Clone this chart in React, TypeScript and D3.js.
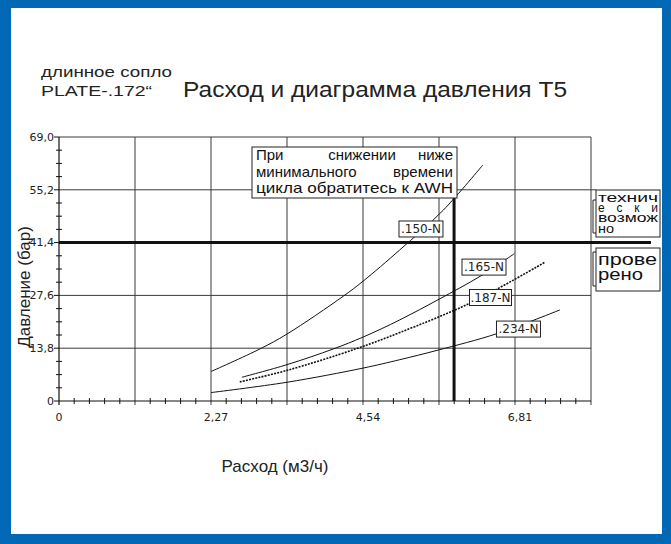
import React from "react";
import * as d3 from "d3";

// ---- data ----
const xTickValues = [0, 2.27, 4.54, 6.81];
const xTickLabels = ["0", "2,27", "4,54", "6,81"];
const yTickValues = [0, 13.8, 27.6, 41.4, 55.2, 69.0];
const yTickLabels = ["0", "13,8", "27,6", "41,4", "55,2", "69,0"];

const seriesNames = [".150-N", ".165-N", ".187-N", ".234-N"];
const flow150 = [2.27, 3.0, 3.405, 4.246, 4.54, 5.09, 5.74, 6.33];
const pres150 = [7.7, 13.6, 17.5, 27.4, 31.3, 39.5, 49.9, 61.7];
const flow165 = [2.73, 3.405, 4.096, 4.54, 5.09, 5.675, 6.29, 6.8];
const pres165 = [6.2, 9.5, 13.6, 16.7, 21.2, 26.6, 32.6, 38.5];
const flow187 = [2.7, 3.405, 4.43, 5.09, 6.14, 7.26];
const pres187 = [5.0, 8.0, 13.6, 17.9, 25.6, 36.3];
const flow234 = [2.27, 3.405, 4.54, 5.09, 5.66, 6.54, 7.48];
const pres234 = [2.2, 4.9, 8.6, 10.8, 13.3, 17.6, 23.8];

// label anchors (data coords)
const labelFlow = [5.406, 6.347, 6.444, 6.862];
const labelPres = [44.96, 35.0, 27.05, 18.8];

const limitPressure = 41.4;
const minFlow = 5.9;

const X_MAX = 7.945;
const X_STEP = 1.135;
const Y_MAX = 69;

const BLUE = "#0068b4";
const GRID = "#3a3a3a";

export default function App() {
  const x = d3.scaleLinear().domain([0, X_MAX]).range([59, 591]);
  const y = d3.scaleLinear().domain([0, Y_MAX]).range([401, 137]);

  const line = d3
    .line<[number, number]>()
    .x((d) => x(d[0]))
    .y((d) => y(d[1]))
    .curve(d3.curveCatmullRom.alpha(0.5));

  const series = [
    { f: flow150, p: pres150, dash: undefined, w: 1 },
    { f: flow165, p: pres165, dash: undefined, w: 1 },
    { f: flow187, p: pres187, dash: "2,1.2", w: 1.6 },
    { f: flow234, p: pres234, dash: undefined, w: 1 },
  ];

  const majorX = d3.range(0, 8).map((i) => i * X_STEP);
  const minorX = d3.range(0, 36).filter((i) => i % 5 !== 0).map((i) => (i * X_STEP) / 5);
  const minorY = d3.range(0, 21).filter((i) => i % 4 !== 0).map((i) => (i * 13.8) / 4);

  const font = "'Liberation Sans', Arial, sans-serif";
  const tickFont = "'DejaVu Sans', sans-serif";

  return (
    <svg
      width={671}
      height={544}
      style={{ position: "absolute", left: 0, top: 0 }}
      xmlns="http://www.w3.org/2000/svg"
    >
      <rect x={0} y={0} width={671} height={544} fill={BLUE} />
      <rect x={11} y={8} width={651} height={526} fill="#fff" />

      {/* titles */}
      <text x={41} y={77} fontFamily={font} fontSize={15} fill="#222" textLength={131} lengthAdjust="spacingAndGlyphs">
        длинное сопло
      </text>
      <text x={41} y={96} fontFamily={font} fontSize={15} fill="#222" textLength={111} lengthAdjust="spacingAndGlyphs">
        PLATE-.172“
      </text>
      <text x={183} y={97} fontFamily={font} fontSize={22} fill="#222" textLength={384} lengthAdjust="spacingAndGlyphs">
        Расход и диаграмма давления  T5
      </text>

      {/* horizontal grid */}
      {yTickValues.filter((v) => v > 0 && v !== limitPressure).map((v) => (
        <line key={"hg" + v} x1={x(0)} x2={v === 55.2 ? 596 : x(X_MAX)} y1={y(v)} y2={y(v)} stroke={GRID} strokeWidth={1} />
      ))}
      {/* vertical grid */}
      {majorX.slice(1).map((v) => (
        <line key={"vg" + v} x1={x(v)} x2={x(v)} y1={y(Y_MAX)} y2={y(0) + 4} stroke={GRID} strokeWidth={1} />
      ))}

      {/* axes */}
      <line x1={x(0)} x2={x(X_MAX)} y1={y(0)} y2={y(0)} stroke="#111" strokeWidth={1.2} />
      <line x1={x(0)} x2={x(0)} y1={y(Y_MAX)} y2={y(0) + 4} stroke="#111" strokeWidth={1.2} />
      {minorX.map((v) => (
        <line key={"mx" + v} x1={x(v)} x2={x(v)} y1={y(0) - 3} y2={y(0) + 3} stroke="#111" strokeWidth={1} />
      ))}
      {minorY.map((v) => (
        <line key={"my" + v} x1={x(0) - 3} x2={x(0) + 3} y1={y(v)} y2={y(v)} stroke="#111" strokeWidth={1} />
      ))}
      {yTickValues.map((v) => (
        <line key={"yt" + v} x1={x(0) - 5} x2={x(0)} y1={y(v)} y2={y(v)} stroke="#111" strokeWidth={1} />
      ))}

      {/* tick labels */}
      {yTickValues.map((v, i) => (
        <text key={"yl" + v} x={54} y={y(v)} dy="0.35em" textAnchor="end" fontFamily={tickFont} fontSize={11} fill="#222">
          {yTickLabels[i]}
        </text>
      ))}
      {xTickValues.map((v, i) => (
        <text key={"xl" + v} x={x(v) + (v > 0 ? 5 : 0)} y={421} textAnchor="middle" fontFamily={tickFont} fontSize={11} fill="#222">
          {xTickLabels[i]}
        </text>
      ))}

      {/* axis titles */}
      <text
        transform={`translate(30, 287) rotate(-90)`}
        textAnchor="middle"
        fontFamily={font}
        fontSize={17}
        fill="#222"
      >
        Давление (бар)
      </text>
      <text x={275} y={472} textAnchor="middle" fontFamily={font} fontSize={17} fill="#222">
        Расход (м3/ч)
      </text>

      {/* curves */}
      {series.map((s, i) => (
        <path
          key={"s" + i}
          d={line(s.f.map((f, j) => [f, s.p[j]] as [number, number])) || ""}
          fill="none"
          stroke="#111"
          strokeWidth={s.w}
          strokeDasharray={s.dash}
        />
      ))}

      {/* limit lines */}
      <line x1={x(0)} x2={651} y1={y(limitPressure)} y2={y(limitPressure)} stroke="#111" strokeWidth={3} />
      <line x1={x(minFlow)} x2={x(minFlow)} y1={198} y2={y(0)} stroke="#111" strokeWidth={3} />

      {/* curve labels */}
      {seriesNames.map((n, i) => {
        const cx = x(labelFlow[i]);
        const cy = y(labelPres[i]);
        const w = i === 2 ? 42 : 44;
        const h = 16;
        return (
          <g key={"lab" + i}>
            <rect x={cx - w / 2} y={cy - h / 2} width={w} height={h} fill="#fff" stroke="#222" strokeWidth={1} />
            <text x={cx} y={cy} dy="0.36em" textAnchor="middle" fontFamily={tickFont} fontSize={12} fill="#222">
              {n}
            </text>
          </g>
        );
      })}

      {/* annotation box */}
      <rect x={252} y={147} width={205} height={51} fill="#fff" stroke="#222" strokeWidth={1} />
      <g fontFamily={font} fontSize={15} fill="#111">
        <text x={256} y={160}>При</text>
        <text x={362} y={160} textAnchor="middle">снижении</text>
        <text x={453} y={160} textAnchor="end">ниже</text>
        <text x={256} y={176.5}>минимального</text>
        <text x={453} y={176.5} textAnchor="end">времени</text>
        <text x={256} y={193} textLength={197} lengthAdjust="spacingAndGlyphs">цикла обратитесь к AWH</text>
      </g>

      {/* right boxes */}
      <rect x={596} y={190} width={64} height={47} fill="#fff" stroke="#222" strokeWidth={1} />
      <path d="M596,200 H593 V233 H596" fill="none" stroke="#222" strokeWidth={1} />
      <g fontFamily={font} fontSize={12} fill="#111">
        <text x={598} y={202} textLength={60} lengthAdjust="spacingAndGlyphs">технич</text>
        <text x={598} y={212} textLength={60} lengthAdjust="spacing">е с к и</text>
        <text x={598} y={222} textLength={60} lengthAdjust="spacingAndGlyphs">возмож</text>
        <text x={598} y={233} textLength={16} lengthAdjust="spacingAndGlyphs">но</text>
      </g>
      <rect x={596} y={248} width={64} height={43} fill="#fff" stroke="#222" strokeWidth={1} />
      <path d="M596,252 H593 V286 H596" fill="none" stroke="#222" strokeWidth={1} />
      <g fontFamily={font} fontSize={16} fill="#111">
        <text x={598} y={265} textLength={59} lengthAdjust="spacingAndGlyphs">прове</text>
        <text x={598} y={280} textLength={45} lengthAdjust="spacingAndGlyphs">рено</text>
      </g>
    </svg>
  );
}
